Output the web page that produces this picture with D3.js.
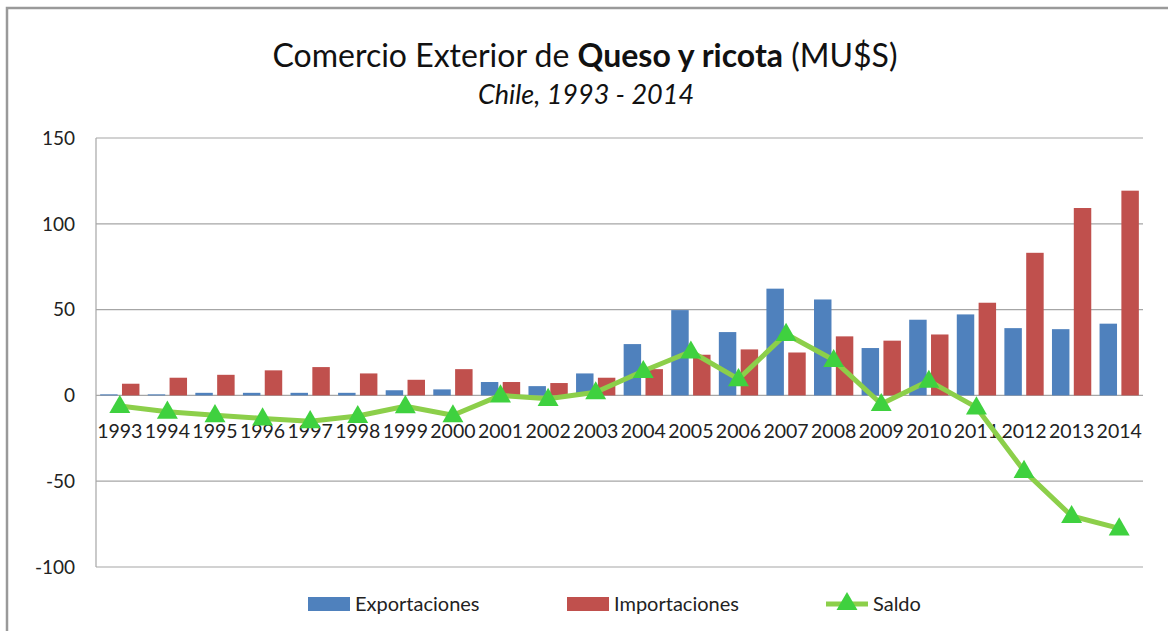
<!DOCTYPE html>
<html>
<head>
<meta charset="utf-8">
<script src="https://cdn.jsdelivr.net/npm/d3@7"></script>
<style>
  html, body { margin: 0; padding: 0; background: #fff; }
  svg { display: block; }
</style>
</head>
<body>
<div id="chart"></div>
<script>
/* Comercio exterior de queso y ricota, Chile 1993-2014 */

var years = ["1993", "1994", "1995", "1996", "1997", "1998", "1999", "2000", "2001", "2002", "2003",
  "2004", "2005", "2006", "2007", "2008", "2009", "2010", "2011", "2012", "2013", "2014"];
var exportaciones = [0.6, 0.6, 1.5, 1.5, 1.5, 1.5, 3.0, 3.5, 7.8, 5.4, 12.8,
  29.9, 49.7, 36.9, 62.2, 55.9, 27.6, 44.1, 47.2, 39.2, 38.6, 41.8];
var importaciones = [6.8, 10.3, 12.0, 14.6, 16.5, 12.8, 9.1, 15.3, 7.8, 7.2, 10.3,
  15.3, 23.7, 26.8, 25.0, 34.4, 31.9, 35.5, 54.0, 83.1, 109.2, 119.3];
var saldo = [-6.2, -9.5, -11.5, -13.4, -15.0, -12.0, -6.3, -11.6, 0.0, -2.0, 1.8,
  14.2, 25.6, 9.5, 35.8, 20.6, -5.0, 8.5, -7.0, -44.0, -70.3, -77.5];
var yTicks = [-100, -50, 0, 50, 100, 150];
var seriesNames = ["Exportaciones", "Importaciones", "Saldo"];

var W = 1168, H = 631;
var blue = "#4F81BD", red = "#C0504D", lineGreen = "#8CCF4A", markGreen = "#3FD13F";
var font = "Lato, 'Open Sans', sans-serif";

var svg = d3.select("#chart").append("svg")
  .attr("width", W).attr("height", H)
  .attr("viewBox", "0 0 " + W + " " + H);

// chart frame
svg.append("rect")
  .attr("x", 7).attr("y", 8).attr("width", W + 20).attr("height", H + 20)
  .attr("fill", "#fff").attr("stroke", "#9a9a9a").attr("stroke-width", 2.5);

var pLeft = 96, pRight = 1143, pTop = 138, pBottom = 567;

var x = d3.scaleBand().domain(years).range([pLeft, pRight]).padding(0);
var xs = d3.scaleBand().domain(["exp", "imp"]).range([0, x.bandwidth()])
  .paddingInner(0.2).paddingOuter(0.19);
var y = d3.scaleLinear().domain([-100, 150]).range([pBottom, pTop]);

// gridlines
svg.append("g").selectAll("line").data(yTicks).enter().append("line")
  .attr("x1", pLeft).attr("x2", pRight)
  .attr("y1", function (d) { return y(d); }).attr("y2", function (d) { return y(d); })
  .attr("stroke", "#a6a6a6").attr("stroke-width", 1.2);

svg.append("line")
  .attr("x1", pLeft).attr("x2", pLeft).attr("y1", pTop).attr("y2", pBottom)
  .attr("stroke", "#a6a6a6").attr("stroke-width", 1.2);

// y tick labels
svg.append("g").selectAll("text").data(yTicks).enter().append("text")
  .attr("x", 75).attr("y", function (d) { return y(d); })
  .attr("dy", "0.36em")
  .attr("text-anchor", "end")
  .attr("font-family", font).attr("font-size", 19).attr("fill", "#222")
  .text(function (d) { return d; });

// bars
var bars = svg.append("g");
bars.selectAll("rect.exp").data(years).enter().append("rect")
  .attr("class", "exp")
  .attr("x", function (d) { return x(d) + xs("exp"); })
  .attr("width", xs.bandwidth())
  .attr("y", function (d, i) { return y(Math.max(0, exportaciones[i])); })
  .attr("height", function (d, i) { return Math.abs(y(exportaciones[i]) - y(0)); })
  .attr("fill", blue);
bars.selectAll("rect.imp").data(years).enter().append("rect")
  .attr("class", "imp")
  .attr("x", function (d) { return x(d) + xs("imp"); })
  .attr("width", xs.bandwidth())
  .attr("y", function (d, i) { return y(Math.max(0, importaciones[i])); })
  .attr("height", function (d, i) { return Math.abs(y(importaciones[i]) - y(0)); })
  .attr("fill", red);

// x labels
svg.append("g").selectAll("text").data(years).enter().append("text")
  .attr("x", function (d) { return x(d) + x.bandwidth() / 2; })
  .attr("y", 438)
  .attr("text-anchor", "middle")
  .attr("font-family", font).attr("font-size", 19.5).attr("fill", "#222")
  .text(function (d) { return d; });

// saldo line
var line = d3.line()
  .x(function (d, i) { return x(years[i]) + x.bandwidth() / 2; })
  .y(function (d) { return y(d); });
svg.append("path").datum(saldo)
  .attr("d", line)
  .attr("fill", "none").attr("stroke", lineGreen).attr("stroke-width", 5)
  .attr("stroke-linejoin", "round");

var tri = d3.symbol().type(d3.symbolTriangle).size(190);
svg.append("g").selectAll("path").data(saldo).enter().append("path")
  .attr("d", tri)
  .attr("transform", function (d, i) {
    return "translate(" + (x(years[i]) + x.bandwidth() / 2) + "," + (y(d) + 1) + ")";
  })
  .attr("fill", markGreen);

// title
var title = svg.append("text")
  .attr("x", 585).attr("y", 67)
  .attr("text-anchor", "middle")
  .attr("font-family", font).attr("font-size", 32).attr("fill", "#111");
title.append("tspan").text("Comercio Exterior de ");
title.append("tspan").attr("font-weight", 700).text("Queso y ricota");
title.append("tspan").text(" (MU$S)");

svg.append("text")
  .attr("x", 586).attr("y", 104)
  .attr("text-anchor", "middle")
  .attr("font-family", font).attr("font-size", 27).attr("font-style", "italic")
  .attr("fill", "#111")
  .text("Chile, 1993 - 2014");

// legend
var legend = svg.append("g").attr("font-family", font).attr("font-size", 20).attr("fill", "#222");
var legX = [308, 567, 826];
legend.append("rect").attr("x", legX[0]).attr("y", 597).attr("width", 42).attr("height", 14).attr("fill", blue);
legend.append("rect").attr("x", legX[1]).attr("y", 597).attr("width", 42).attr("height", 14).attr("fill", red);
legend.append("line").attr("x1", legX[2]).attr("x2", legX[2] + 42).attr("y1", 604).attr("y2", 604)
  .attr("stroke", lineGreen).attr("stroke-width", 5);
legend.append("path").attr("d", tri)
  .attr("transform", "translate(" + (legX[2] + 21) + ",604)").attr("fill", markGreen);
legend.selectAll("text").data(seriesNames).enter().append("text")
  .attr("x", function (d, i) { return legX[i] + 47; })
  .attr("y", 611)
  .text(function (d) { return d; });
</script>
</body>
</html>
